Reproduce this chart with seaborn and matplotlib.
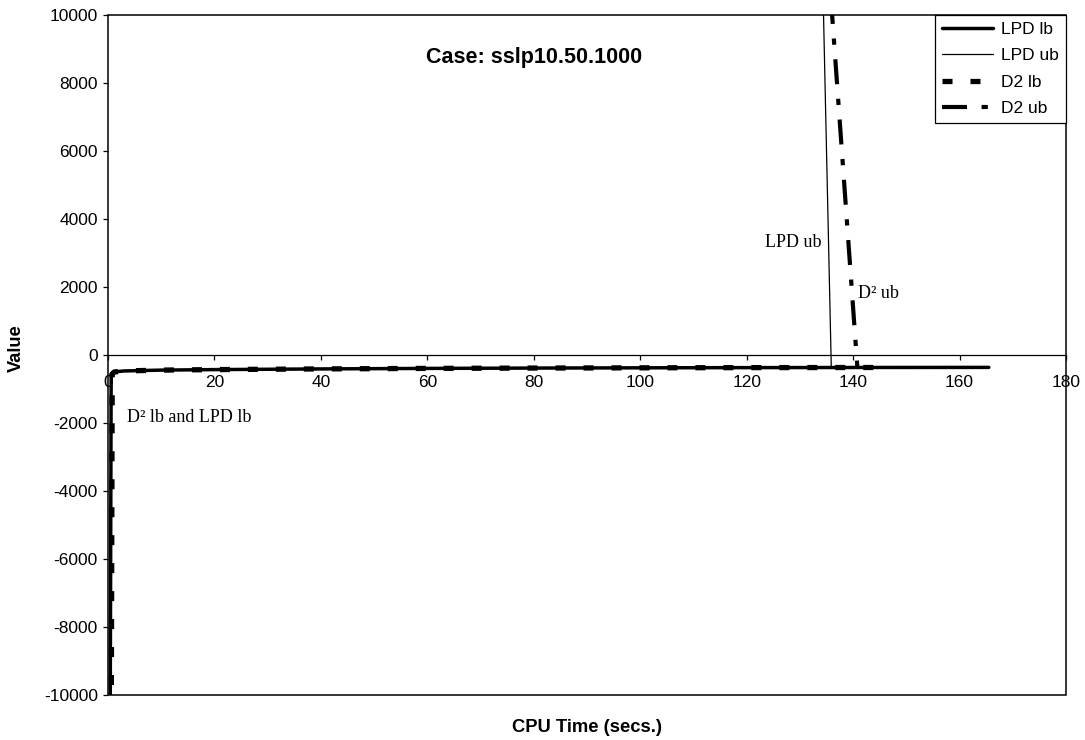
import seaborn as sns
import matplotlib.pyplot as plt
from matplotlib.patches import Rectangle
import pandas as pd

lpd_lb_x = [0.4, 0.6, 1, 3, 10, 20, 40, 60, 80, 100, 120, 140, 165.5]
lpd_lb_y = [-12000, -560, -500, -470, -445, -430, -410, -395, -385, -378, -372, -368, -365]
d2_lb_x = [0.6, 0.8, 1.2, 3, 10, 20, 40, 60, 80, 100, 120, 145]
d2_lb_y = [-12000, -560, -500, -470, -445, -430, -410, -395, -385, -378, -372, -368]
lpd_ub_x = [134.3, 135.9]
lpd_ub_y = [11000, -365]
d2_ub_x = [135.6, 140.8]
d2_ub_y = [11000, -365]

x_ticks = list(range(0, 181, 20))
y_ticks = list(range(-10000, 10001, 2000))

sns.set_style("ticks")
plt.rcParams['font.family'] = ['Liberation Sans', 'DejaVu Sans']
plt.rcParams['axes.unicode_minus'] = False
plt.rcParams['text.color'] = 'black'
plt.rcParams['axes.labelcolor'] = 'black'
plt.rcParams['xtick.color'] = 'black'
plt.rcParams['ytick.color'] = 'black'

fig = plt.figure(figsize=(10.85, 7.4), dpi=100)
ax = fig.add_axes([0.0995, 0.0608, 0.883, 0.919])

series = [
    ("LPD lb", lpd_lb_x, lpd_lb_y, dict(lw=2.5, ls='-')),
    ("LPD ub", lpd_ub_x, lpd_ub_y, dict(lw=0.9, ls='-')),
    ("D2 lb", d2_lb_x, d2_lb_y, dict(lw=3.8, ls=(0, (1.9, 3.4)))),
    ("D2 ub", d2_ub_x, d2_ub_y, dict(lw=3.0, ls=(0, (6, 3.5, 1.5, 3.5)))),
]
for name, xs, ys, st in series:
    df = pd.DataFrame({'x': xs, 'y': ys})
    sns.lineplot(data=df, x='x', y='y', sort=False, color='black',
                 label=name, ax=ax, **st)

ax.set_xlim(0, 180)
ax.set_ylim(-10000, 10000)
ax.set_xticks(x_ticks)
ax.set_yticks(y_ticks)
ax.tick_params(bottom=True, left=True, top=False, right=False)
ax.tick_params(labelsize=12.5, length=3.6, width=0.9, color='black',
               labelcolor='black', direction='out')
ax.tick_params(axis='x', pad=10.5)
ax.tick_params(axis='y', pad=3.6)

for s in ['top', 'right', 'left']:
    ax.spines[s].set_visible(False)
ax.spines['bottom'].set_position(('data', 0))
ax.spines['bottom'].set_linewidth(0.9)
ax.spines['bottom'].set_color('black')
ax.add_patch(Rectangle((0, 0), 1, 1, transform=ax.transAxes, fill=False,
                       lw=1.1, ec='black', clip_on=False, zorder=5))

ax.set_xlabel("CPU Time (secs.)", fontsize=13.2, fontweight='bold', color='black')
ax.set_ylabel("Value", fontsize=13.2, fontweight='bold', color='black')
ax.xaxis.set_label_coords(0.5, -0.036)
ax.yaxis.set_label_coords(-0.087, 0.51)

ax.text(80, 8735, "Case: sslp10.50.1000", fontsize=15.5, fontweight='bold',
        ha='center', va='center', color='black')
serif = ['Liberation Serif', 'DejaVu Serif']
ax.text(134.0, 3320, "LPD ub", family=serif, fontsize=13, ha='right', va='center', color='black')
ax.text(141.0, 1820, "D² ub", family=serif, fontsize=13, ha='left', va='center', color='black')
ax.text(3.5, -1830, "D² lb and LPD lb", family=serif, fontsize=13, ha='left', va='center', color='black')

leg = ax.legend(loc='upper right', borderaxespad=0, fontsize=12.5, handlelength=2.9,
                frameon=True, fancybox=False, framealpha=1, borderpad=0.4,
                labelspacing=0.65, handletextpad=0.5)
leg.get_frame().set_edgecolor('black')
leg.get_frame().set_linewidth(0.9)
for t in leg.get_texts():
    t.set_color('black')

fig.savefig("out.png", dpi=100)
